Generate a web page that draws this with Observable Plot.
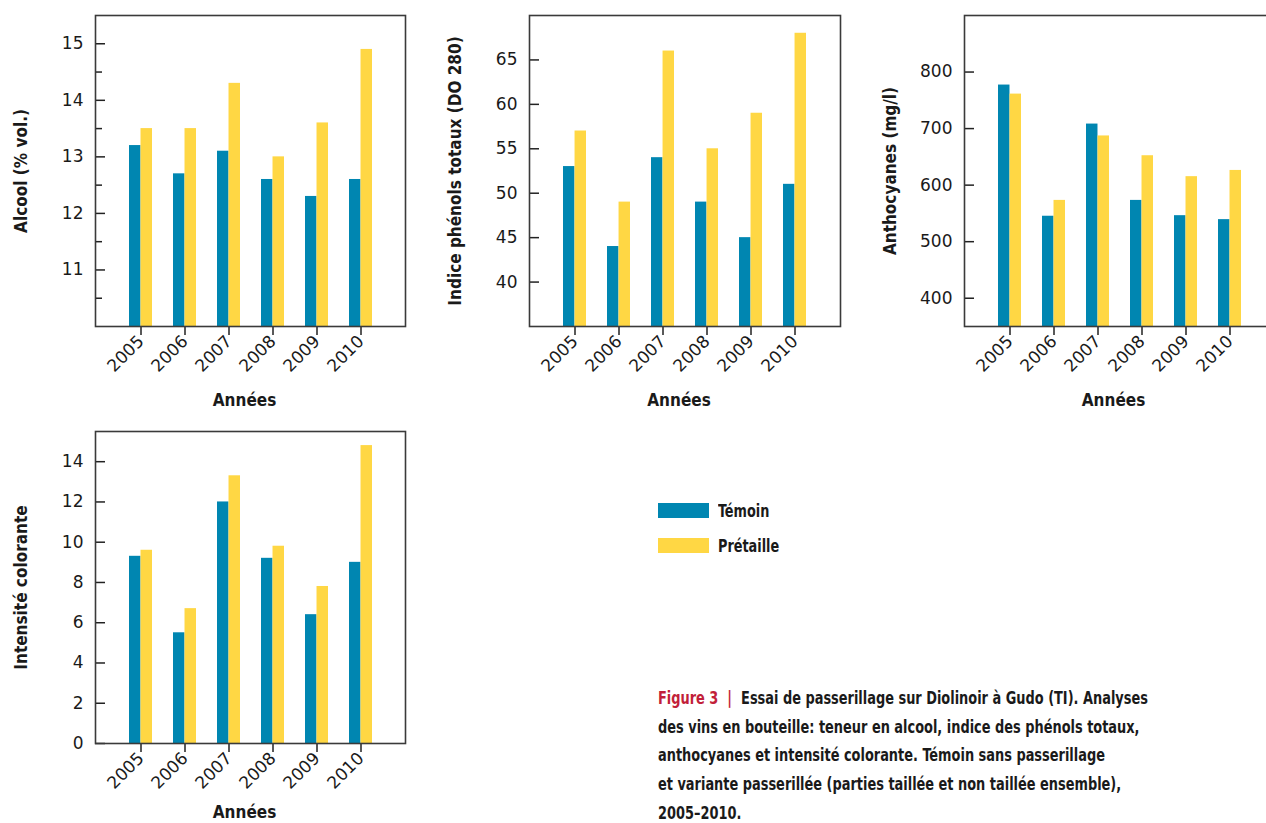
<!DOCTYPE html>
<html>
<head>
<meta charset="utf-8">
<script src="https://cdn.jsdelivr.net/npm/d3@7"></script>
<script src="https://cdn.jsdelivr.net/npm/@observablehq/plot@0.6"></script>
<style>
  html, body { margin: 0; padding: 0; background: #fff; }
  body { position: relative; width: 1266px; height: 823px; overflow: hidden;
         font-family: "DejaVu Sans Condensed", "DejaVu Sans", sans-serif; color: #1a1a1a; }
  .panel { position: absolute; }
  .panel svg { overflow: visible; max-width: none !important; }
  .legend { position: absolute; left: 658px; top: 493px; font-weight: bold; font-size: 17px; }
  .legend .row { display: flex; align-items: center; height: 35px; }
  .legend .sw { width: 51px; height: 15px; margin-right: 9px; flex: none; }
  .legend .lab { display: inline-block; transform: scaleX(0.84); transform-origin: left center; }
  .caption { position: absolute; left: 658px; top: 684px; font-weight: bold; font-size: 17px; line-height: 28.7px;
             white-space: nowrap; transform: scaleX(0.845); transform-origin: left top; }
  .caption .fig { color: #c21f3a; }
</style>
</head>
<body>
<div id="p1" class="panel" style="left:0px;top:0px;width:420px;height:420px"></div>
<div id="p2" class="panel" style="left:420px;top:0px;width:430px;height:420px"></div>
<div id="p3" class="panel" style="left:850px;top:0px;width:430px;height:420px"></div>
<div id="p4" class="panel" style="left:0px;top:420px;width:420px;height:403px"></div>
<div id="legend" class="legend"></div>
<div class="caption">
  <span class="fig">Figure 3&nbsp;&nbsp;|&nbsp;</span>&nbsp;Essai de passerillage sur Diolinoir à Gudo (TI). Analyses<br>
  des vins en bouteille: teneur en alcool, indice des phénols totaux,<br>
  anthocyanes et intensité colorante. Témoin sans passerillage<br>
  et variante passerillée (parties taillée et non taillée ensemble),<br>
  2005–2010.
</div>
<script>
// ---- Data ----
const years = ["2005", "2006", "2007", "2008", "2009", "2010"];
const series = ["Témoin", "Prétaille"];
const seriesColors = ["#0086b1", "#ffd744"];
const xLabel = "Années";

const alcoolTemoin = [13.2, 12.7, 13.1, 12.6, 12.3, 12.6];
const alcoolPretaille = [13.5, 13.5, 14.3, 13.0, 13.6, 14.9];
const alcoolTicks = [11, 12, 13, 14, 15];
const alcoolMinorTicks = [10.5, 11.5, 12.5, 13.5, 14.5];

const phenolsTemoin = [53, 44, 54, 49, 45, 51];
const phenolsPretaille = [57, 49, 66, 55, 59, 68];
const phenolsTicks = [40, 45, 50, 55, 60, 65];

const anthoTemoin = [777, 545, 708, 573, 546, 539];
const anthoPretaille = [761, 573, 687, 652, 615, 626];
const anthoTicks = [400, 500, 600, 700, 800];

const intensiteTemoin = [9.3, 5.5, 12.0, 9.2, 6.4, 9.0];
const intensitePretaille = [9.6, 6.7, 13.3, 9.8, 7.8, 14.8];
const intensiteTicks = [0, 2, 4, 6, 8, 10, 12, 14];

const FONT = '"DejaVu Sans Condensed", "DejaVu Sans", sans-serif';
const TICKFONT = '"DejaVu Sans", sans-serif';

function rowsFor(temoin, pretaille) {
  return years.flatMap((y, i) => [
    {year: y, series: series[0], value: temoin[i]},
    {year: y, series: series[1], value: pretaille[i]}
  ]);
}

function panel(cfg) {
  const rows = rowsFor(cfg.temoin, cfg.pretaille);
  const frameW = cfg.width - cfg.marginLeft - cfg.marginRight;
  const pi = 0.48, po = 0.74;
  const step = frameW / (years.length - pi + 2 * po);
  const half = step * (1 - pi) / 2;
  const marks = [
    Plot.barY(rows.filter(d => d.series === series[0]), {x: "year", y: "value", fill: seriesColors[0], insetRight: half, clip: true}),
    Plot.barY(rows.filter(d => d.series === series[1]), {x: "year", y: "value", fill: seriesColors[1], insetLeft: half, clip: true}),
    Plot.axisY({ticks: cfg.ticks, tickFormat: d => String(d), tickSize: 0, tickPadding: 12, label: null,
                fontSize: 17, fontFamily: TICKFONT}),
    Plot.axisY({ticks: cfg.ticks, tickSize: -10, text: null, label: null, stroke: "#222", strokeWidth: 1.5}),
    Plot.axisX({tickSize: 9, tickRotate: -45, label: null, fontSize: 17, fontFamily: TICKFONT,
                stroke: "#222", strokeWidth: 1.5, tickPadding: 3}),
    Plot.frame({stroke: "#3a3a3a", strokeWidth: 1.6}),
    Plot.text([cfg.ylabel], {text: d => d, frameAnchor: "left", textAnchor: "middle", lineAnchor: "middle",
                rotate: -90, dx: -74, fontWeight: "bold", fontSize: 17}),
    Plot.text([xLabel], {text: d => d, frameAnchor: "bottom", textAnchor: "middle", lineAnchor: "middle",
                dy: cfg.xLabelOffset, dx: -6, fontWeight: "bold", fontSize: 17})
  ];
  if (cfg.minor) marks.splice(4, 0, Plot.axisY({ticks: cfg.minor, tickSize: -7, text: null, label: null, stroke: "#222", strokeWidth: 1.5}));
  const chart = Plot.plot({
    width: cfg.width, height: cfg.height,
    marginLeft: cfg.marginLeft, marginRight: cfg.marginRight,
    marginTop: cfg.marginTop, marginBottom: cfg.marginBottom,
    style: {fontFamily: FONT, fontSize: "17px", color: "#1a1a1a", background: "transparent", overflow: "visible", maxWidth: "none"},
    x: {type: "band", domain: years, paddingInner: pi, paddingOuter: po},
    y: {domain: cfg.domain},
    marks
  });
  document.getElementById(cfg.id).appendChild(chart);
}

panel({id: "p1", width: 420, height: 420, marginLeft: 95, marginRight: 15, marginTop: 15, marginBottom: 94,
  domain: [10, 15.5], ticks: alcoolTicks, minor: alcoolMinorTicks, ylabel: "Alcool (% vol.)", xLabelOffset: 74,
  temoin: alcoolTemoin, pretaille: alcoolPretaille});
panel({id: "p2", width: 430, height: 420, marginLeft: 109, marginRight: 10, marginTop: 15, marginBottom: 94,
  domain: [35, 70], ticks: phenolsTicks, ylabel: "Indice phénols totaux (DO 280)", xLabelOffset: 74,
  temoin: phenolsTemoin, pretaille: phenolsPretaille});
panel({id: "p3", width: 430, height: 420, marginLeft: 114, marginRight: 6, marginTop: 15, marginBottom: 94,
  domain: [350, 900], ticks: anthoTicks, ylabel: "Anthocyanes (mg/l)", xLabelOffset: 74,
  temoin: anthoTemoin, pretaille: anthoPretaille});
panel({id: "p4", width: 420, height: 403, marginLeft: 95, marginRight: 15, marginTop: 11, marginBottom: 80,
  domain: [0, 15.5], ticks: intensiteTicks, ylabel: "Intensité colorante", xLabelOffset: 69,
  temoin: intensiteTemoin, pretaille: intensitePretaille});

// Legend
const legend = document.getElementById("legend");
series.forEach((s, i) => {
  const row = document.createElement("div");
  row.className = "row";
  const sw = document.createElement("div");
  sw.className = "sw";
  sw.style.background = seriesColors[i];
  const lab = document.createElement("span");
  lab.className = "lab";
  lab.textContent = s;
  row.appendChild(sw); row.appendChild(lab);
  legend.appendChild(row);
});
</script>
</body>
</html>
